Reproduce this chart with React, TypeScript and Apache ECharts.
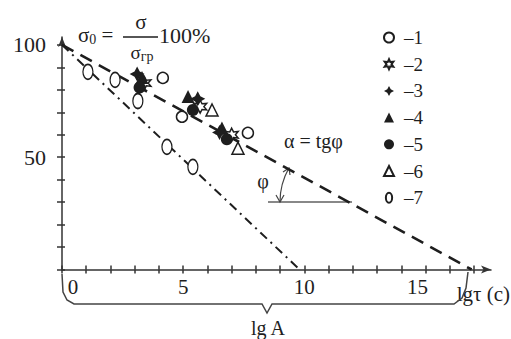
import React, { useEffect, useRef } from "react";
import * as echarts from "echarts";

// ---- data ----
const xTicks = [0, 1, 2, 3, 4, 5, 6, 7, 8, 9, 10, 11, 12, 13, 14, 15, 16, 17];
const xLabels = [0, 5, 10, 15];
const yTicks = [0, 10, 20, 30, 40, 50, 60, 70, 80, 90, 100];
const yLabels = [50, 100];

const legendNames = ["–1", "–2", "–3", "–4", "–5", "–6", "–7"];

const s1 = [[4.16, 85.3], [4.95, 68], [7.67, 60.8]];
const s2 = [[3.4, 83], [5.7, 72.5], [7.0, 60]];
const s3 = [[3.1, 87], [5.6, 76], [6.5, 61]];
const s4 = [[3.3, 85.5], [5.2, 77], [6.6, 63]];
const s5 = [[3.2, 81], [5.4, 71], [6.8, 58]];
const s6 = [[6.19, 71], [7.26, 54]];
const s7 = [[1.07, 88], [2.19, 84.4], [3.13, 75], [4.33, 54.6], [5.4, 45.7]];

const dashLine = [[0, 100], [16.9, 0]];
const dashDotLine = [[0, 100], [9.8, 0]];

const FONT = "'Liberation Serif', 'Times New Roman', serif";
const INK = "#1e1e1e";

const STAR6 =
  "path://M0,-10 L2.5,-4.33 L8.66,-5 L5,0 L8.66,5 L2.5,4.33 L0,10 L-2.5,4.33 L-8.66,5 L-5,0 L-8.66,-5 L-2.5,-4.33 Z";
const STAR4 =
  "path://M0,-10 L3.5,-3.5 L10,0 L3.5,3.5 L0,10 L-3.5,3.5 L-10,0 L-3.5,-3.5 Z";
const OVAL = "path://M0,-8 A5,8 0 1,1 0,8 A5,8 0 1,1 0,-8 Z";

export default function App() {
  const ref = useRef<HTMLDivElement>(null);
  useEffect(() => {
    if (!ref.current) return;
    const chart = echarts.init(ref.current, undefined, { renderer: "svg" });
    const axisLineStyle = { color: "#333", width: 1.5 };
    const emptyStyle = { color: "#fff", borderColor: INK, borderWidth: 1.5, opacity: 1 };
    const filledStyle = { color: INK, opacity: 1 };
    const labelRich = {
      l: { fontSize: 21, fontFamily: FONT, color: INK, padding: [0, 0, 0, 22] },
      r: { fontSize: 21, fontFamily: FONT, color: INK, padding: [0, 16, 0, 0] },
      n: { fontSize: 21, fontFamily: FONT, color: INK },
    };
    const option: any = {
      animation: false,
      backgroundColor: "#fff",
      grid: { left: 62, right: 20, top: 37, bottom: 69.5 },
      xAxis: [
        {
          type: "value",
          min: 0,
          max: 17.7,
          position: "bottom",
          axisLine: {
            show: true,
            symbol: ["none", "arrow"],
            symbolSize: [6, 10],
            lineStyle: axisLineStyle,
          },
          axisTick: {
            show: true,
            customValues: xTicks,
            length: 4,
            lineStyle: axisLineStyle,
          },
          axisLabel: {
            customValues: xLabels,
            fontSize: 21,
            fontFamily: FONT,
            color: INK,
            margin: 7,
            formatter: (v: number) =>
              v === 0 ? "{l|0}" : v === 15 ? "{r|15}" : `{n|${v}}`,
            rich: labelRich,
          },
          splitLine: { show: false },
        },
        {
          type: "value",
          min: 0,
          max: 17.7,
          position: "bottom",
          offset: 0,
          axisLine: { show: false },
          axisTick: {
            show: true,
            inside: true,
            customValues: xTicks,
            length: 4,
            lineStyle: axisLineStyle,
          },
          axisLabel: { show: false },
          splitLine: { show: false },
        },
      ],
      yAxis: [
        {
          type: "value",
          min: 0,
          max: 103.5,
          position: "left",
          axisLine: {
            show: true,
            symbol: ["none", "arrow"],
            symbolSize: [6, 10],
            lineStyle: axisLineStyle,
          },
          axisTick: {
            show: true,
            customValues: yTicks,
            length: 5,
            lineStyle: axisLineStyle,
          },
          axisLabel: {
            customValues: yLabels,
            fontSize: 22,
            fontFamily: FONT,
            color: INK,
            margin: 16,
          },
          splitLine: { show: false },
        },
        {
          type: "value",
          min: 0,
          max: 103.5,
          position: "left",
          offset: 0,
          axisLine: { show: false },
          axisTick: {
            show: true,
            inside: true,
            customValues: yTicks,
            length: 3,
            lineStyle: axisLineStyle,
          },
          axisLabel: { show: false },
          splitLine: { show: false },
        },
      ],
      legend: {
        data: legendNames,
        orient: "vertical",
        left: 383,
        top: 28,
        padding: 0,
        itemWidth: 10,
        itemHeight: 10,
        itemGap: 7.7,
        textStyle: {
          fontSize: 19,
          lineHeight: 19,
          fontFamily: FONT,
          color: INK,
          padding: [0, 0, 0, 5],
        },
      },
      series: [
        {
          type: "line",
          data: dashLine,
          symbol: "none",
          silent: true,
          z: 1,
          lineStyle: { color: INK, width: 2.6, type: [13, 8] },
        },
        {
          type: "line",
          data: dashDotLine,
          symbol: "none",
          silent: true,
          z: 1,
          lineStyle: { color: INK, width: 2, type: [9, 5, 2, 5] },
        },
        {
          name: legendNames[0],
          type: "scatter",
          data: s1,
          symbol: "circle",
          symbolSize: 11,
          itemStyle: emptyStyle,
        },
        {
          name: legendNames[1],
          type: "scatter",
          data: s2,
          symbol: STAR6,
          symbolSize: 13,
          itemStyle: emptyStyle,
        },
        {
          name: legendNames[2],
          type: "scatter",
          data: s3,
          symbol: STAR4,
          symbolSize: 15,
          itemStyle: filledStyle,
        },
        {
          name: legendNames[3],
          type: "scatter",
          data: s4,
          symbol: "triangle",
          symbolSize: 13,
          itemStyle: filledStyle,
        },
        {
          name: legendNames[4],
          type: "scatter",
          data: s5,
          symbol: "circle",
          symbolSize: 12,
          itemStyle: filledStyle,
        },
        {
          name: legendNames[5],
          type: "scatter",
          data: s6,
          symbol: "triangle",
          symbolSize: 12,
          itemStyle: emptyStyle,
        },
        {
          name: legendNames[6],
          type: "scatter",
          data: s7,
          symbol: OVAL,
          symbolSize: [10, 15],
          itemStyle: emptyStyle,
        },
      ],
      graphic: [
        // formula sigma0 = sigma / sigma_gr * 100%
        {
          type: "text",
          x: 78,
          y: 35,
          style: {
            text: "{a|σ}{s|0} =",
            rich: {
              a: { fontSize: 21, fontFamily: FONT, fill: INK },
              s: { fontSize: 14, fontFamily: FONT, fill: INK, padding: [8, 0, 0, 0] },
            },
            font: `21px ${FONT}`,
            fill: INK,
            verticalAlign: "middle",
          },
        },
        {
          type: "text",
          x: 141,
          y: 22,
          style: {
            text: "σ",
            font: `21px ${FONT}`,
            fill: INK,
            align: "center",
            verticalAlign: "middle",
          },
        },
        {
          type: "line",
          shape: { x1: 123, y1: 37, x2: 158, y2: 37 },
          style: { stroke: INK, lineWidth: 1.5 },
        },
        {
          type: "text",
          x: 142,
          y: 52,
          style: {
            text: "{a|σ}{s|гр}",
            rich: {
              a: { fontSize: 19, fontFamily: FONT, fill: INK },
              s: { fontSize: 14, fontFamily: FONT, fill: INK, padding: [8, 0, 0, 0] },
            },
            align: "center",
            verticalAlign: "middle",
          },
        },
        {
          type: "text",
          x: 159,
          y: 35,
          style: {
            text: "100%",
            font: `22px ${FONT}`,
            fill: INK,
            verticalAlign: "middle",
          },
        },
        // angle annotation
        {
          type: "text",
          x: 284,
          y: 141,
          style: {
            text: "α = tgφ",
            font: `20px ${FONT}`,
            fill: INK,
            verticalAlign: "middle",
          },
        },
        {
          type: "text",
          x: 263,
          y: 181,
          style: {
            text: "φ",
            font: `20px ${FONT}`,
            fill: INK,
            align: "center",
            verticalAlign: "middle",
          },
        },
        {
          type: "line",
          shape: { x1: 268, y1: 202, x2: 352, y2: 202 },
          style: { stroke: "#888", lineWidth: 2 },
        },
        {
          type: "arc",
          shape: { cx: 349, cy: 202, r: 69, startAngle: Math.PI, endAngle: Math.PI + 0.51, clockwise: true },
          style: { stroke: "#444", lineWidth: 1.2, fill: "none" },
        },
        {
          type: "polyline",
          shape: { points: [[276, 195], [280, 202], [284, 195]] },
          style: { stroke: "#444", lineWidth: 1.2, fill: "none" },
        },
        {
          type: "polyline",
          shape: { points: [[283, 172], [289, 168], [290, 175]] },
          style: { stroke: "#444", lineWidth: 1.2, fill: "none" },
        },
        // x axis title
        {
          type: "text",
          x: 510,
          y: 294,
          style: {
            text: "lgτ (c)",
            font: `21px ${FONT}`,
            fill: INK,
            align: "right",
            verticalAlign: "middle",
          },
        },
        // bracket lg A
        {
          type: "polyline",
          shape: {
            points: [
              [62, 274],
              [63, 292],
              [67, 300],
              [74, 304],
              [262, 304],
              [267, 313],
              [272, 304],
              [454, 304],
              [462, 298],
              [466, 288],
              [468, 272],
            ],
          },
          style: { stroke: "#444", lineWidth: 1.5, fill: "none" },
        },
        {
          type: "text",
          x: 268,
          y: 328,
          style: {
            text: "lg A",
            font: `20px ${FONT}`,
            fill: INK,
            align: "center",
            verticalAlign: "middle",
          },
        },
      ],
    };
    chart.setOption(option);
    return () => chart.dispose();
  }, []);
  return (
    <div
      ref={ref}
      style={{ position: "absolute", left: 0, top: 0, width: 511, height: 339 }}
    />
  );
}
